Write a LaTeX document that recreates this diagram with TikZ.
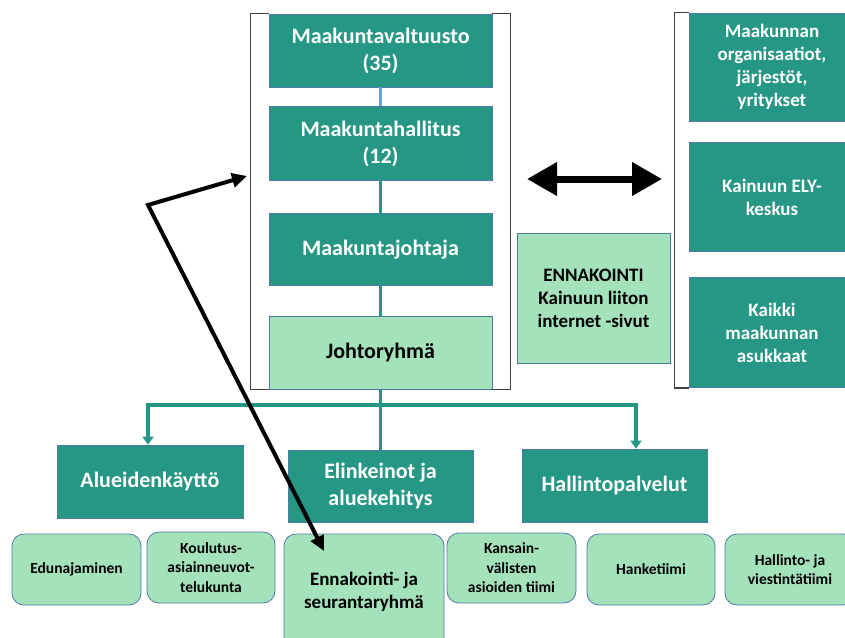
\documentclass[tikz,border=0pt]{standalone}
\usepackage{fontspec}
\setmainfont{Carlito}
\usetikzlibrary{positioning,arrows.meta}
\definecolor{kteal}{RGB}{38,151,133}
\definecolor{klight}{RGB}{163,226,186}
\definecolor{kedge}{RGB}{79,120,170}
\definecolor{kblue}{RGB}{110,160,220}
\tikzset{
  pointer/.style={{Triangle[length=15pt,width=14pt]}-{Triangle[length=15pt,width=14pt]}, draw, black, line width=4pt},
}

\begin{document}
\begin{tikzpicture}[x=1pt,y=-1pt,
            organ/.style={rectangle,draw=kedge,line width=0.8pt,fill=kteal,text=white,align=center,inner sep=0pt,font=\bfseries\fontsize{22}{27}\selectfont},
            group/.style={rectangle,draw=kedge,line width=0.8pt,fill=klight,text=black,align=center,inner sep=0pt,font=\bfseries\fontsize{19}{23}\selectfont},
            team/.style={group,rounded corners=12pt,font=\bfseries\fontsize{15.5}{19.5}\selectfont},
            link/.style={draw=kteal,line width=3.2pt},
            bracket/.style={draw=black!75,line width=1.2pt}]
            \useasboundingbox[fill=white] (0,0) rectangle (845,637);
            \clip (0,0) rectangle (845,637);

            % hallinto
            \node[organ,minimum width=223pt,minimum height=73pt] (valt) at (380.5,50.5) {Maakuntavaltuusto\\(35)};
            \node[organ,minimum width=223pt,minimum height=74pt,below=19pt of valt] (hall) {Maakuntahallitus\\(12)};
            \node[organ,minimum width=223pt,minimum height=72pt,below=32pt of hall] (joht) {Maakuntajohtaja};
            \node[group,font=\bfseries\fontsize{22}{27}\selectfont,minimum width=223pt,minimum height=73pt,below=30pt of joht] (ryhma) {Johtoryhmä};

            % sidosryhmat
            \node[organ,font=\bfseries\fontsize{19}{23}\selectfont,minimum width=166pt,minimum height=108pt] (org) at (772,67) {Maakunnan\\organisaatiot,\\järjestöt,\\yritykset};
            \node[organ,font=\bfseries\fontsize{19}{23}\selectfont,minimum width=166pt,minimum height=109pt,below=21pt of org] (ely) {Kainuun ELY-\\keskus};
            \node[organ,font=\bfseries\fontsize{19}{23}\selectfont,minimum width=166pt,minimum height=110pt,below=25pt of ely] (asuk) {Kaikki\\maakunnan\\asukkaat};
            \node[group,minimum width=153pt,minimum height=130pt] (enna) at (593.5,298) {ENNAKOINTI\\Kainuun liiton\\internet -sivut};

            % tulosalueet
            \node[organ,minimum width=186pt,minimum height=73pt] (alue) at (150,481.5) {Alueidenkäyttö};
            \node[organ,minimum width=185pt,minimum height=72pt] (elin) at (380.5,486) {Elinkeinot ja\\aluekehitys};
            \node[organ,minimum width=185pt,minimum height=73pt] (hpal) at (614.5,485.5) {Hallintopalvelut};

            % tiimit
            \node[team,minimum width=129pt,minimum height=71pt] (edun) at (76.5,569.5) {Edunajaminen};
            \node[team,minimum width=128pt,minimum height=71pt] (koul) at (211,567.5) {Koulutus-\\asiainneuvot-\\telukunta};
            \node[team,font=\bfseries\fontsize{19}{23}\selectfont,minimum width=160pt,minimum height=116pt] (ensr) at (364,592) {Ennakointi- ja\\seurantaryhmä};
            \node[team,minimum width=129pt,minimum height=70pt] (kans) at (511.5,568) {Kansain-\\välisten\\asioiden tiimi};
            \node[team,minimum width=128pt,minimum height=71pt] (hank) at (651,569.5) {Hanketiimi};
            \node[team,minimum width=130pt,minimum height=71pt] (hvie) at (790,569.5) {Hallinto- ja\\viestintätiimi};

            \draw[bracket] (valt.north west) -- ++(-18,0) |- (ryhma.south west);
            \draw[bracket] (valt.north east) -- ++(18,0) |- (ryhma.south east);
            \draw[bracket] (org.north west) -- ++(-14,0) |- (asuk.south west);

            \draw[link,draw=kblue] (valt.south) -- (valt.south |- hall.north);
            \draw[link] (hall.south) -- (hall.south |- joht.north);
            \draw[link] (joht) -- (ryhma);
            \coordinate (bus) at (381,405);
            \draw[link] (ryhma.south) -- (ryhma.south |- elin.north);
            \draw[link,-{Triangle[length=8pt,width=11pt]}] (bus) -| ([xshift=-2pt]alue.north);
            \draw[link,-{Triangle[length=8pt,width=11pt]}] (bus) -| ([xshift=21.5pt]hpal.north);

            \coordinate (dl) at (527,179);
            \coordinate (dr) at (662,179);
            \draw[line width=7pt,{Triangle[length=30pt,width=32pt]}-{Triangle[length=30pt,width=32pt]}] (dl) -- (dr);

            \coordinate (side) at (247,176);
            \coordinate (knee) at (148,205);
            \coordinate (tip) at (324,551);
            \draw[pointer,miter limit=20] (side) -- (knee) -- (tip);

         \end{tikzpicture}
\end{document}
